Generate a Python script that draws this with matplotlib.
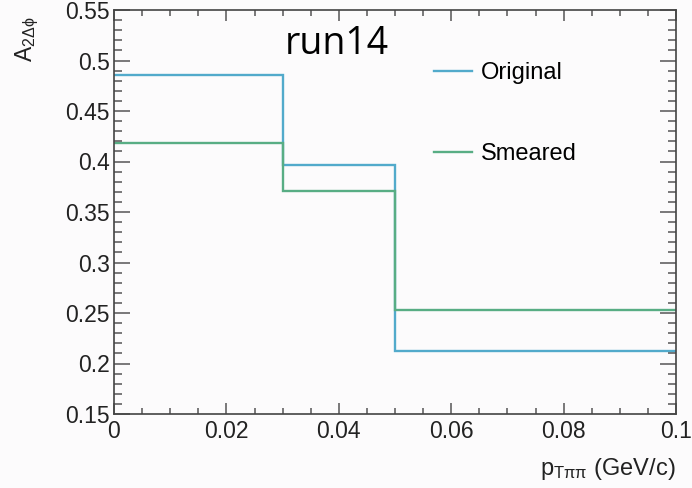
import numpy as np
import matplotlib
matplotlib.use("Agg")
import matplotlib.pyplot as plt
from matplotlib.ticker import MultipleLocator

# === DONNEES ===
bin_edges = [0.0, 0.03, 0.05, 0.1]
original = [0.486, 0.397, 0.212]
smeared = [0.418, 0.371, 0.253]
x_ticks = [0, 0.02, 0.04, 0.06, 0.08, 0.1]
x_tick_labels = ["0", "0.02", "0.04", "0.06", "0.08", "0.1"]
y_ticks = [0.15, 0.2, 0.25, 0.3, 0.35, 0.4, 0.45, 0.5, 0.55]
y_tick_labels = ["0.15", "0.2", "0.25", "0.3", "0.35", "0.4", "0.45", "0.5", "0.55"]

c_orig = "#52aacb"
c_smear = "#58ad84"

plt.rcParams["font.family"] = ["Liberation Sans", "DejaVu Sans"]
plt.rcParams["mathtext.fontset"] = "custom"
plt.rcParams["mathtext.rm"] = "Liberation Sans"
plt.rcParams["mathtext.it"] = "Liberation Sans:italic"

W, H = 692, 488
fig = plt.figure(figsize=(W / 100, H / 100), dpi=100, facecolor="#fcfbfc")
ax = fig.add_axes([114 / W, 1 - 414 / H, (676 - 114) / W, (414 - 10) / H])
ax.set_facecolor("#fcfbfc")

# === HISTOGRAMMES ===
ax.stairs(original, bin_edges, baseline=None, color=c_orig, lw=1.7, label="Original")
ax.stairs(smeared, bin_edges, baseline=None, color=c_smear, lw=1.7, label="Smeared")

ax.set_xlim(0, 0.1)
ax.set_ylim(0.15, 0.55)
ax.set_xticks(x_ticks)
ax.set_xticklabels(x_tick_labels)
ax.set_yticks(y_ticks)
ax.set_yticklabels(y_tick_labels)
ax.xaxis.set_minor_locator(MultipleLocator(0.005))
ax.yaxis.set_minor_locator(MultipleLocator(0.01))

ax.tick_params(which="both", direction="in", top=True, right=True,
               colors="#555555", labelcolor="#222222", labelsize=16.5)
ax.tick_params(axis="y", which="major", length=11.5, width=1.1, pad=3)
ax.tick_params(axis="y", which="minor", length=6, width=1.1)
ax.tick_params(axis="x", which="major", length=8, width=1.1, pad=4)
ax.tick_params(axis="x", which="minor", length=4, width=1.1)
for s in ax.spines.values():
    s.set_color("#444444")
    s.set_linewidth(1.2)

ax.set_xlabel(r"p$_{\mathrm{T\pi\pi}}$ (GeV/c)", fontsize=17, color="#222222",
              loc="right", labelpad=10)
ax.set_ylabel(r"A$_{\mathrm{2\Delta\phi}}$", fontsize=16.5, color="#222222",
              loc="top")
ax.yaxis.set_label_coords(-0.13, 0.985)

ax.text(0.303, 0.962, "run14", transform=ax.transAxes, fontsize=27,
        family="Open Sans", color="black", va="top", ha="left")

leg = ax.legend(loc="upper left", bbox_to_anchor=(434 / W, 1 - 62 / H),
                bbox_transform=fig.transFigure, frameon=False, fontsize=17,
                handlelength=1.6, handletextpad=0.4, labelspacing=2.5,
                borderpad=0, borderaxespad=0)

plt.savefig("out.png", dpi=100, facecolor=fig.get_facecolor())
